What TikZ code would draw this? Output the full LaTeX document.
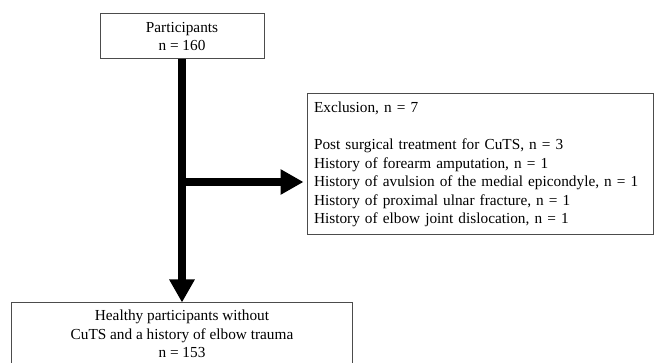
\documentclass[tikz,border=0pt]{standalone}
\usepackage{fontspec}
\setmainfont{Liberation Serif}
\usetikzlibrary{arrows.meta}

\begin{document}
\begin{tikzpicture}[x=1pt, y=-1pt,
    box/.style={draw=black!70, line width=1pt, inner sep=0pt, font=\fontsize{15.3}{18.6}\selectfont},
    bigarrow/.style={line width=8pt, -{Triangle[width=24pt,length=23pt]}}]
    \useasboundingbox (0,0) rectangle (654,363);
    \node (participants) [box, align=center, minimum width=164pt, minimum height=45pt] at (182,36.5) {Participants\\n = 160};
    \node (exclusion) [box, align=left, minimum width=346pt, minimum height=141pt, text width=332pt] at (480,164.5) {Exclusion, n = 7\\[18.6pt]Post surgical treatment for CuTS, n = 3\\History of forearm amputation, n = 1\\History of avulsion of the medial epicondyle, n = 1\\History of proximal ulnar fracture, n = 1\\History of elbow joint dislocation, n = 1};
    \node (healthy) [box, align=center, minimum width=341pt, minimum height=62pt] at (182,334) {Healthy participants without\\CuTS and a history of elbow trauma\\n = 153};
    \coordinate (branch) at (182,182);
    
    \draw[bigarrow] (participants.south) -- (healthy.north);
    \draw[bigarrow, shorten >=3pt] (branch) -- (branch -| exclusion.west);
\end{tikzpicture}
\end{document}
